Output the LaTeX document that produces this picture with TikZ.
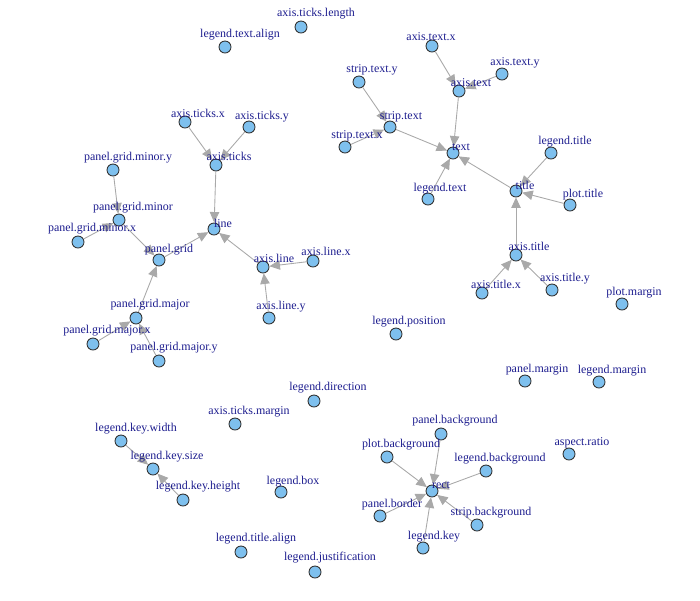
\documentclass[tikz,border=0pt]{standalone}
\usepackage{fontspec}
\setmainfont{Liberation Serif}
\usetikzlibrary{arrows.meta}
\definecolor{vfill}{HTML}{7EC0EE}
\definecolor{lblue}{HTML}{1C1C8E}
\definecolor{egray}{HTML}{A9A9A9}
\begin{document}
\begin{tikzpicture}[x=0.02cm,y=0.02cm]
\tikzstyle{vx}=[circle,draw=black!80,fill=vfill,line width=0.5pt,minimum size=0.24cm,inner sep=0pt]
\tikzstyle{lab}=[inner sep=0pt,yshift=-1.1pt,text=lblue,font=\fontsize{6.8}{8}\selectfont]
\tikzstyle{edge}=[draw=egray,line width=0.5pt,-{Triangle[length=6pt,width=5.4pt,fill=egray]}]
\useasboundingbox (0,0) rectangle (700,-600);
% vertices
\node [vx] (tlen) at (301,-27) {};
\node [vx] (txalign) at (225,-47) {};
\node [vx] (lpos) at (396,-334) {};
\node [vx] (ldir) at (314,-401) {};
\node [vx] (tmargin) at (235,-424) {};
\node [vx] (lbox) at (281,-492) {};
\node [vx] (ttalign) at (241,-552) {};
\node [vx] (ljust) at (315,-572) {};
\node [vx] (pmargin) at (622,-304) {};
\node [vx] (panmargin) at (525,-381) {};
\node [vx] (legmargin) at (599,-382) {};
\node [vx] (aspect) at (569,-454) {};
\node [vx] (text) at (453,-153) {};
\node [vx] (atext) at (459,-91) {};
\node [vx] (atextx) at (432,-46) {};
\node [vx] (atexty) at (502,-74) {};
\node [vx] (stext) at (390,-127) {};
\node [vx] (stexty) at (359,-82) {};
\node [vx] (stextx) at (345,-147) {};
\node [vx] (ltext) at (428,-199) {};
\node [vx] (title) at (516,-191) {};
\node [vx] (ltitle) at (551,-153) {};
\node [vx] (ptitle) at (570,-205) {};
\node [vx] (atitle) at (516,-255) {};
\node [vx] (atitlex) at (482,-293) {};
\node [vx] (atitley) at (552,-290) {};
\node [vx] (line) at (214,-229) {};
\node [vx] (ticks) at (216,-165) {};
\node [vx] (ticksx) at (185,-122) {};
\node [vx] (ticksy) at (249,-127) {};
\node [vx] (grid) at (159,-260) {};
\node [vx] (gminor) at (119,-220) {};
\node [vx] (gminory) at (113,-170) {};
\node [vx] (gminorx) at (78,-242) {};
\node [vx] (gmajor) at (136,-318) {};
\node [vx] (gmajorx) at (93,-344) {};
\node [vx] (gmajory) at (159,-361) {};
\node [vx] (aline) at (263,-267) {};
\node [vx] (alinex) at (313,-261) {};
\node [vx] (aliney) at (269,-318) {};
\node [vx] (ksize) at (153,-469) {};
\node [vx] (kwidth) at (121,-441) {};
\node [vx] (kheight) at (183,-500) {};
\node [vx] (rect) at (432,-491) {};
\node [vx] (panbg) at (441,-434) {};
\node [vx] (plotbg) at (387,-457) {};
\node [vx] (legbg) at (486,-471) {};
\node [vx] (panborder) at (380,-516) {};
\node [vx] (stripbg) at (477,-525) {};
\node [vx] (lkey) at (423,-548) {};
% edges
\draw [edge] (atextx) -- (atext);
\draw [edge] (atexty) -- (atext);
\draw [edge] (atext) -- (text);
\draw [edge] (stexty) -- (stext);
\draw [edge] (stextx) -- (stext);
\draw [edge] (stext) -- (text);
\draw [edge] (ltext) -- (text);
\draw [edge] (title) -- (text);
\draw [edge] (ltitle) -- (title);
\draw [edge] (ptitle) -- (title);
\draw [edge] (atitle) -- (title);
\draw [edge] (atitlex) -- (atitle);
\draw [edge] (atitley) -- (atitle);
\draw [edge] (ticksx) -- (ticks);
\draw [edge] (ticksy) -- (ticks);
\draw [edge] (ticks) -- (line);
\draw [edge] (gminory) -- (gminor);
\draw [edge] (gminorx) -- (gminor);
\draw [edge] (gminor) -- (grid);
\draw [edge] (gmajorx) -- (gmajor);
\draw [edge] (gmajory) -- (gmajor);
\draw [edge] (gmajor) -- (grid);
\draw [edge] (grid) -- (line);
\draw [edge] (alinex) -- (aline);
\draw [edge] (aliney) -- (aline);
\draw [edge] (aline) -- (line);
\draw [edge] (kwidth) -- (ksize);
\draw [edge] (kheight) -- (ksize);
\draw [edge] (panbg) -- (rect);
\draw [edge] (plotbg) -- (rect);
\draw [edge] (legbg) -- (rect);
\draw [edge] (panborder) -- (rect);
\draw [edge] (stripbg) -- (rect);
\draw [edge] (lkey) -- (rect);
% labels
\node [lab] (tlen-l) at (316,-12) {axis.ticks.length};
\node [lab] (txalign-l) at (240,-33) {legend.text.align};
\node [lab] (lpos-l) at (409,-320) {legend.position};
\node [lab] (ldir-l) at (328,-386) {legend.direction};
\node [lab] (tmargin-l) at (249,-410) {axis.ticks.margin};
\node [lab] (lbox-l) at (293,-480) {legend.box};
\node [lab] (ttalign-l) at (256,-537) {legend.title.align};
\node [lab] (ljust-l) at (330,-556) {legend.justification};
\node [lab] (pmargin-l) at (634,-291) {plot.margin};
\node [lab] (panmargin-l) at (537,-368) {panel.margin};
\node [lab] (legmargin-l) at (612,-369) {legend.margin};
\node [lab] (aspect-l) at (582,-441) {aspect.ratio};
\node [lab] (text-l) at (461,-145) {text};
\node [lab] (atext-l) at (471,-81) {axis.text};
\node [lab] (atextx-l) at (431,-35) {axis.text.x};
\node [lab] (atexty-l) at (515,-61) {axis.text.y};
\node [lab] (stext-l) at (401,-115) {strip.text};
\node [lab] (stexty-l) at (372,-68) {strip.text.y};
\node [lab] (stextx-l) at (357,-134) {strip.text.x};
\node [lab] (ltext-l) at (440,-187) {legend.text};
\node [lab] (title-l) at (525,-183) {title};
\node [lab] (ltitle-l) at (565,-140) {legend.title};
\node [lab] (ptitle-l) at (583,-193) {plot.title};
\node [lab] (atitle-l) at (529,-244) {axis.title};
\node [lab] (atitlex-l) at (496,-282) {axis.title.x};
\node [lab] (atitley-l) at (565,-277) {axis.title.y};
\node [lab] (line-l) at (223,-221) {line};
\node [lab] (ticks-l) at (229,-154) {axis.ticks};
\node [lab] (ticksx-l) at (198,-111) {axis.ticks.x};
\node [lab] (ticksy-l) at (262,-115) {axis.ticks.y};
\node [lab] (grid-l) at (169,-248) {panel.grid};
\node [lab] (gminor-l) at (133,-206) {panel.grid.minor};
\node [lab] (gminory-l) at (128,-156) {panel.grid.minor.y};
\node [lab] (gminorx-l) at (92,-227) {panel.grid.minor.x};
\node [lab] (gmajor-l) at (150,-303) {panel.grid.major};
\node [lab] (gmajorx-l) at (107,-329) {panel.grid.major.x};
\node [lab] (gmajory-l) at (174,-346) {panel.grid.major.y};
\node [lab] (aline-l) at (274,-256) {axis.line};
\node [lab] (alinex-l) at (326,-249) {axis.line.x};
\node [lab] (aliney-l) at (281,-305) {axis.line.y};
\node [lab] (ksize-l) at (167,-455) {legend.key.size};
\node [lab] (kwidth-l) at (136,-427) {legend.key.width};
\node [lab] (kheight-l) at (198,-485) {legend.key.height};
\node [lab] (rect-l) at (441,-483) {rect};
\node [lab] (panbg-l) at (455,-419) {panel.background};
\node [lab] (plotbg-l) at (401,-443) {plot.background};
\node [lab] (legbg-l) at (500,-457) {legend.background};
\node [lab] (panborder-l) at (392,-503) {panel.border};
\node [lab] (stripbg-l) at (491,-511) {strip.background};
\node [lab] (lkey-l) at (434,-535) {legend.key};
\end{tikzpicture}
\end{document}
